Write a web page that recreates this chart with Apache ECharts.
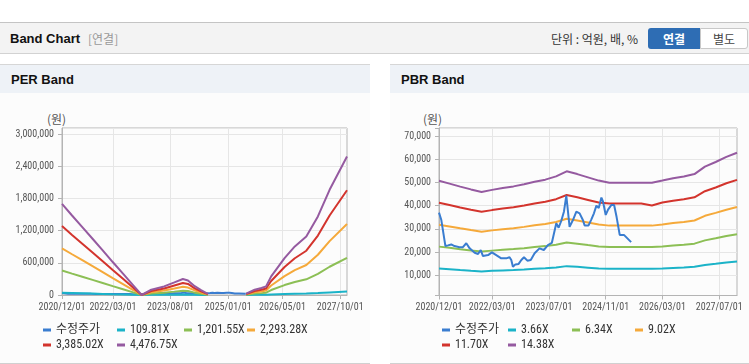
<!DOCTYPE html>
<html><head><meta charset="utf-8">
<script src="https://cdn.jsdelivr.net/npm/echarts@6/dist/echarts.min.js"></script>
<style>
html,body{margin:0;padding:0;background:#fff;width:749px;height:364px;overflow:hidden;font-family:"Liberation Sans","Noto Sans CJK KR",sans-serif;}
.abs{position:absolute;}
#topbar{left:0;top:22px;width:749px;height:30px;background:#f3f3f3;border-top:1px solid #c4c4c4;border-bottom:1px solid #d2d2d2;}
.panel{top:64px;height:298px;background:#fcfcfc;border-top:1px solid #d6d6d6;border-bottom:1px solid #d0d0d0;}
.phead{left:0;top:0;right:0;height:28px;background:#eef2f7;}
.ptitle{left:11px;top:0;line-height:29px;font-size:13px;font-weight:bold;color:#111;}
.unit{font-size:12px;color:#555;font-family:"Noto Sans CJK KR",sans-serif;line-height:16px;}
#chart{left:0;top:0;width:749px;height:364px;}
</style></head>
<body>
<div id="topbar" class="abs">
  <div class="abs" style="left:10px;top:0;line-height:31px;font-size:13px;font-weight:bold;color:#111;">Band Chart</div>
  <div class="abs" style="left:88px;top:0;line-height:31px;font-size:12px;color:#999;font-family:'Noto Sans CJK KR',sans-serif;">[연결]</div>
  <div class="abs" style="left:551px;top:0;line-height:31px;font-size:12px;color:#333;font-family:'Noto Sans CJK KR',sans-serif;">단위 : 억원, 배, %</div>
  <div class="abs" style="left:648px;top:5px;width:52px;height:21px;background:#2e6db4;border-radius:3px 0 0 3px;color:#fff;font-size:12px;font-weight:bold;text-align:center;line-height:21px;font-family:'Noto Sans CJK KR',sans-serif;">연결</div>
  <div class="abs" style="left:700px;top:5px;width:46px;height:19px;background:#fff;border:1px solid #c8c8c8;border-radius:0 3px 3px 0;color:#444;font-size:12px;text-align:center;line-height:19px;font-family:'Noto Sans CJK KR',sans-serif;">별도</div>
</div>
<div class="abs panel" style="left:0;width:370px;">
  <div class="abs phead"><div class="abs ptitle">PER Band</div></div>
  <div class="abs unit" style="left:47px;top:46px;">(원)</div>
</div>
<div class="abs panel" style="left:390px;width:359px;">
  <div class="abs phead"><div class="abs ptitle">PBR Band</div></div>
  <div class="abs unit" style="left:33px;top:46px;">(원)</div>
</div>
<div id="chart" class="abs"></div>
<script>
// ---------- data ----------
const perTickLabels = ['2020/12/01','2022/03/01','2023/08/01','2025/01/01','2026/05/01','2027/10/01'];
const pbrTickLabels = ['2020/12/01','2022/03/01','2023/07/01','2024/11/01','2026/03/01','2027/07/01'];
const perYTicks = [0, 600000, 1200000, 1800000, 2400000, 3000000];
const pbrYTicks = [10000, 20000, 30000, 40000, 50000, 60000, 70000];

const perNames = ['109.81X','1,201.55X','2,293.28X','3,385.02X','4,476.75X'];
const pbrNames = ['3.66X','6.34X','9.02X','11.70X','14.38X'];
const priceName = '수정주가';

const priceDates = ['2020-12-01','2020-12-21','2021-01-25','2021-02-16','2021-03-16','2021-04-13','2021-05-26','2021-06-24','2021-07-23','2021-08-21','2021-10-03','2021-11-01','2021-11-24','2021-12-13','2021-12-28','2022-01-26','2022-02-28','2022-04-06','2022-05-19','2022-07-01','2022-07-29','2022-08-13','2022-08-27','2022-09-17','2022-10-15','2022-11-07','2022-11-30','2022-12-29','2023-01-27','2023-03-01','2023-04-12','2023-05-19','2023-06-23','2023-07-27','2023-08-13','2023-09-03','2023-09-23','2023-10-16','2023-11-08','2023-11-28','2023-12-26','2024-01-24','2024-02-22','2024-03-21','2024-04-18','2024-05-03','2024-06-06','2024-06-29','2024-07-22','2024-08-12','2024-09-01','2024-09-24','2024-10-08','2024-10-31','2024-11-20','2024-12-19','2025-01-11','2025-02-01','2025-02-28','2025-04-05','2025-06-06'];
const priceValues = [37000,33800,22600,22900,23300,22600,22100,22100,23800,21600,19700,19200,20900,18300,17800,18700,19900,18700,17300,17300,17800,16600,13700,14700,14900,16600,17800,16300,16600,19500,21600,20900,23000,24000,24300,32400,30500,33500,37500,44300,30900,33800,37400,36700,33800,31500,31500,34000,36700,40000,39000,43500,41700,36000,38300,40300,40300,35200,27400,27400,24300];

const perDates = ['2020-12-01','2021-03-01','2021-06-01','2021-09-01','2021-12-01','2022-03-01','2022-06-01','2022-09-01','2022-11-15','2023-02-10','2023-06-05','2023-09-05','2023-11-20','2024-01-05','2024-03-05','2024-05-01','2024-07-01','2024-10-01','2025-06-10','2025-08-25','2025-10-25','2025-12-05','2026-01-20','2026-05-20','2026-08-20','2026-12-01','2027-03-15','2027-06-28','2027-12-01'];
const per109  = [41700,36400,31100,25700,20400,15100,9800,4400,0,2400,3900,5800,7300,6700,4000,2200,500,null,600,2400,3200,3900,8500,16900,22200,26800,35900,48100,63400];
const per1201 = [456000,398000,340000,282000,223000,165000,107000,49000,0,27000,43000,63000,80000,73000,44000,24000,5000,null,6000,27000,35000,43000,93000,185000,243000,293000,393000,527000,693000];
const per2293 = [871000,760000,649000,537000,426000,315000,204000,93000,0,51000,82000,120000,153000,139000,85000,46000,10000,null,12000,51000,67000,82000,178000,353000,464000,559000,751000,1005000,1323000];
const per3385 = [1285000,1121000,957000,793000,629000,465000,301000,137000,0,75000,121000,178000,225000,206000,125000,68000,15000,null,18000,75000,98000,121000,262000,521000,685000,826000,1108000,1483000,1953000];
const per4476 = [1700000,1483000,1266000,1049000,832000,615000,398000,181000,0,99000,160000,235000,298000,272000,165000,90000,20000,null,24000,99000,130000,160000,347000,689000,906000,1092000,1465000,1962000,2583000];

const pbrDates = ['2020-12-01','2021-03-01','2021-06-01','2021-09-01','2021-12-01','2022-03-01','2022-06-01','2022-09-01','2022-12-01','2023-03-01','2023-06-01','2023-09-01','2023-12-01','2024-03-01','2024-06-01','2024-09-01','2024-12-01','2025-03-01','2025-06-01','2025-09-01','2025-12-01','2026-03-01','2026-06-01','2026-09-01','2026-12-01','2027-03-01','2027-06-01','2027-09-01','2027-12-01'];
const pbr366  = [12900,12600,12270,11960,11680,11910,12110,12290,12520,12800,13030,13390,13950,13640,13280,12930,12800,12800,12800,12800,12800,12930,13180,13390,13640,14460,14960,15520,15980];
const pbr634  = [22350,21820,21250,20720,20240,20630,20990,21300,21690,22180,22570,23190,24160,23630,23010,22400,22200,22200,22200,22200,22200,22400,22840,23190,23630,25040,25920,26890,27690];
const pbr902  = [31800,31050,30230,29480,28790,29350,29850,30290,30860,31550,32110,32990,34370,33620,32740,31860,31400,31400,31400,31400,31400,31860,32490,32990,33620,35620,36880,38260,39390];
const pbr1170 = [41250,40270,39220,38240,37340,38080,38730,39300,40030,40920,41660,42800,44590,43610,42470,41330,40900,40900,40900,40900,40100,41330,42140,42800,43610,46210,47840,49630,51090];
const pbr1438 = [50700,49500,48200,47000,45900,46800,47600,48300,49200,50300,51200,52600,54800,53600,52200,50800,49900,49900,49900,49900,49900,50800,51800,52600,53600,56800,58800,61000,62800];

const colors = {price:'#3a7dd0', c1:'#1bb3c8', c2:'#8cbf55', c3:'#f5a93a', c4:'#d3342d', c5:'#955aa0'};

// ---------- helpers ----------
const startMonth = {y:2020, m:12}, monthCount = 85;
const months = [];
for (let i = 0; i < monthCount; i++) {
  const t = (startMonth.m - 1) + i;
  const y = startMonth.y + Math.floor(t / 12), m = t % 12 + 1;
  months.push(y + '/' + (m < 10 ? '0' + m : m) + '/01');
}
const tMin = +new Date('2020-12-01T00:00:00'), tMax = +new Date('2027-12-01T00:00:00');
const pair = (dates, vals) => dates.map((d, i) => [d, vals[i]]);
const FONT = '"Roboto Condensed","Noto Sans CJK KR",sans-serif';

function catAxis(gridIndex, ticks) {
  const f = (idx, val) => ticks.indexOf(val) >= 0;
  return {
    type:'category', gridIndex, data: months, boundaryGap:false,
    axisLine:{lineStyle:{color:'#b4b4b4'}},
    axisTick:{show:true, interval:f, length:4, lineStyle:{color:'#b4b4b4'}},
    axisLabel:{interval:f, color:'#555', fontSize:10, fontFamily:FONT, margin:7, hideOverlap:false},
    splitLine:{show:true, interval:f, lineStyle:{color:'#e6e6e6'}}
  };
}
function timeAxis(gridIndex) {
  return {type:'time', gridIndex, min:tMin, max:tMax, show:false, splitLine:{show:false}};
}
function lineSeries(name, data, color, xi, yi, z) {
  return {type:'line', name, data, xAxisIndex:xi, yAxisIndex:yi, showSymbol:false, symbol:'none',
    lineStyle:{width:2, color}, itemStyle:{color}, connectNulls:false, z: z || 2, animation:false};
}
function legend(name, left, top) {
  return {data:[name], left, top, padding:0, itemWidth:8, itemHeight:3, icon:'rect',
    selectedMode:false, textStyle:{fontSize:12, color:'#333', fontFamily:FONT}};
}

const chart = echarts.init(document.getElementById('chart'), null, {renderer:'canvas'});
const option = {
  animation:false,
  backgroundColor:'transparent',
  grid:[
    {left:62, top:128, width:285, height:167, show:true, borderColor:'#b4b4b4', borderWidth:1, backgroundColor:'transparent', containLabel:false},
    {left:439, top:128, width:298, height:167.5, show:true, borderColor:'#b4b4b4', borderWidth:1, backgroundColor:'transparent', containLabel:false}
  ],
  xAxis:[catAxis(0, perTickLabels), timeAxis(0), catAxis(1, pbrTickLabels), timeAxis(1)],
  yAxis:[
    {type:'value', gridIndex:0, min:0, max:3115000, interval:perYTicks[1]-perYTicks[0],
      axisLine:{show:true, lineStyle:{color:'#b4b4b4'}},
      axisTick:{show:true, length:4, lineStyle:{color:'#b4b4b4'}},
      axisLabel:{color:'#555', fontSize:10, fontFamily:FONT, margin:8, showMaxLabel:false, hideOverlap:false,
        formatter:v => perYTicks.indexOf(v) >= 0 ? v.toLocaleString('en-US') : ''},
      splitLine:{lineStyle:{color:'#e6e6e6'}}},
    {type:'value', gridIndex:1, min:1300, max:73450, splitNumber:7,
      axisLine:{show:true, lineStyle:{color:'#b4b4b4'}},
      axisTick:{show:true, length:4, lineStyle:{color:'#b4b4b4'}},
      axisLabel:{color:'#555', fontSize:10, fontFamily:FONT, margin:8, hideOverlap:false,
        formatter:v => pbrYTicks.indexOf(v) >= 0 ? v.toLocaleString('en-US') : ''},
      splitLine:{lineStyle:{color:'#e6e6e6'}}}
  ],
  legend:[
    legend(priceName, 43, 324), legend(perNames[0], 117, 324), legend(perNames[1], 184, 324), legend(perNames[2], 247, 324),
    legend(perNames[3], 43, 339), legend(perNames[4], 117, 339),
    legend(priceName, 442, 324), legend(pbrNames[0], 508, 324), legend(pbrNames[1], 572, 324), legend(pbrNames[2], 635, 324),
    legend(pbrNames[3], 442, 339), legend(pbrNames[4], 508, 339)
  ],
  series:[
    lineSeries(priceName, pair(priceDates, priceValues), colors.price, 1, 0),
    lineSeries(perNames[0], pair(perDates, per109), colors.c1, 1, 0),
    lineSeries(perNames[1], pair(perDates, per1201), colors.c2, 1, 0),
    lineSeries(perNames[2], pair(perDates, per2293), colors.c3, 1, 0),
    lineSeries(perNames[3], pair(perDates, per3385), colors.c4, 1, 0),
    lineSeries(perNames[4], pair(perDates, per4476), colors.c5, 1, 0),
    lineSeries(pbrNames[0], pair(pbrDates, pbr366), colors.c1, 3, 1),
    lineSeries(pbrNames[1], pair(pbrDates, pbr634), colors.c2, 3, 1),
    lineSeries(pbrNames[2], pair(pbrDates, pbr902), colors.c3, 3, 1),
    lineSeries(pbrNames[3], pair(pbrDates, pbr1170), colors.c4, 3, 1),
    lineSeries(pbrNames[4], pair(pbrDates, pbr1438), colors.c5, 3, 1),
    lineSeries(priceName, pair(priceDates, priceValues), colors.price, 3, 1, 3)
  ]
};
chart.setOption(option);
</script>
</body></html>
